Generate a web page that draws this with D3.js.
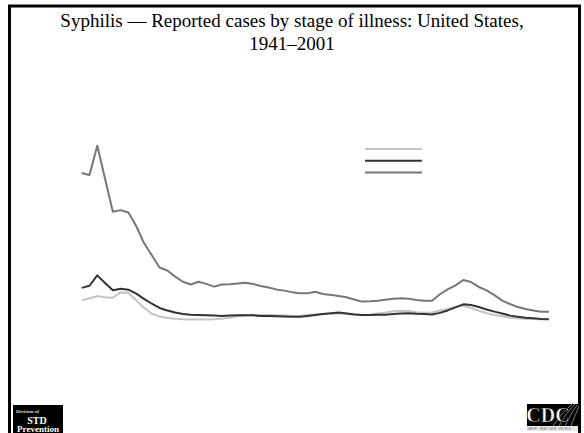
<!DOCTYPE html>
<html>
<head>
<meta charset="utf-8">
<script src="https://cdn.jsdelivr.net/npm/d3@7"></script>
<style>
  html, body { margin: 0; padding: 0; background: #fff; }
  svg { display: block; }
</style>
</head>
<body>
<div id="chart"></div>
<script>
// Reported syphilis cases (thousands) by stage of illness, 1941–2001
const years = [1941,1942,1943,1944,1945,1946,1947,1948,1949,1950,
               1951,1952,1953,1954,1955,1956,1957,1958,1959,1960,
               1961,1962,1963,1964,1965,1966,1967,1968,1969,1970,
               1971,1972,1973,1974,1975,1976,1977,1978,1979,1980,
               1981,1982,1983,1984,1985,1986,1987,1988,1989,1990,
               1991,1992,1993,1994,1995,1996,1997,1998,1999,2000,2001];

const primarySecondary = [68,75,82,78,77,94,93,68,44,24,
                          15,10,8,6,5,5,5,6,8,11,
                          16,18,19,20,20,19,19,17,17,20,
                          22,23,24,25,25,23,20,21,25,28,
                          32,34,33,29,27,28,35,40,46,51,
                          43,34,26,20,16,11,9,7,7,6,6];

const earlyLatent = [109,116,150,125,101,106,103,90,73,57,
                     43,35,28,23,21,20,19,18,17,18,
                     19,19,19,17,17,16,15,14,14,17,
                     20,23,26,28,25,22,20,20,21,21,
                     23,25,26,24,23,22,27,35,45,55,
                     53,46,38,31,25,18,14,11,9,7,6];

const allStages = [486,479,575,467,359,364,356,312,256,216,
                   176,166,146,129,120,129,122,113,120,121,
                   123,126,122,115,110,104,100,95,91,91,
                   96,89,86,82,78,71,64,65,67,70,
                   73,75,73,69,67,67,88,104,117,135,
                   128,112,101,85,67,56,46,40,35,31,31];

const seriesNames = ["Primary & secondary", "Early latent", "All stages"];
const seriesColors = ["#c4c4c4", "#333333", "#777777"];
const seriesValues = [primarySecondary, earlyLatent, allStages];

const W = 584, H = 433;
const svg = d3.select("#chart").append("svg")
  .attr("width", W).attr("height", H);

// slide frame
svg.append("rect")
  .attr("x", 9.5).attr("y", 6).attr("width", 570).attr("height", 450)
  .attr("fill", "#fff").attr("stroke", "#000").attr("stroke-width", 3);

// title
const title = svg.append("text")
  .attr("text-anchor", "middle")
  .attr("font-family", "'Liberation Serif', 'Times New Roman', serif")
  .attr("font-size", 19).attr("fill", "#000");
title.append("tspan").attr("x", 292).attr("y", 27)
  .text("Syphilis \u2014 Reported cases by stage of illness: United States,");
title.append("tspan").attr("x", 292).attr("y", 50).text("1941\u20132001");

// scales
const x = d3.scaleLinear().domain([1941, 2001]).range([81.7, 548.9]);
const y = d3.scaleLinear().domain([0, 600]).range([321.1, 138.2]);

const line = d3.line()
  .x(d => x(d.year))
  .y(d => y(d.value));

// draw lines: light first, then totals, then dark on top
const order = [0, 2, 1];
order.forEach(i => {
  const pts = years.map((yr, k) => ({ year: yr, value: seriesValues[i][k] }));
  svg.append("path")
    .datum(pts)
    .attr("d", line)
    .attr("fill", "none")
    .attr("stroke", seriesColors[i])
    .attr("stroke-width", 2)
    .attr("stroke-linejoin", "round");
});

// legend samples
const legend = svg.append("g").attr("transform", "translate(365,149)");
seriesNames.forEach((name, i) => {
  legend.append("line")
    .attr("x1", 0).attr("x2", 57)
    .attr("y1", i * 11.8).attr("y2", i * 11.8)
    .attr("stroke", seriesColors[i])
    .attr("stroke-width", 2);
});

// Division of STD Prevention logo
const dsp = svg.append("g").attr("transform", "translate(13,405)");
dsp.append("rect").attr("width", 50).attr("height", 30).attr("fill", "#000");
dsp.append("text").attr("x", 3).attr("y", 8)
  .attr("font-family", "'Liberation Serif', serif").attr("font-weight", "bold")
  .attr("font-size", 5).attr("fill", "#ddd").text("Division of");
dsp.append("text").attr("x", 24).attr("y", 18.5).attr("text-anchor", "middle")
  .attr("font-family", "'Liberation Serif', serif").attr("font-weight", "bold")
  .attr("font-size", 10).attr("fill", "#fff").text("STD");
dsp.append("text").attr("x", 25).attr("y", 27).attr("text-anchor", "middle")
  .attr("font-family", "'Liberation Serif', serif").attr("font-weight", "bold")
  .attr("font-size", 9).attr("fill", "#fff").text("Prevention");

// CDC logo
const cdc = svg.append("g").attr("transform", "translate(527,404)");
cdc.append("rect").attr("width", 51).attr("height", 22).attr("fill", "#000");
[0, 1, 2, 3].forEach(k => {
  cdc.append("path")
    .attr("d", `M${26 + k * 6},22 Q${34 + k * 5},9 ${46 + k * 2},${-1 + k}`)
    .attr("fill", "none").attr("stroke", "#777").attr("stroke-width", 1);
});
cdc.append("text").attr("x", 21).attr("y", 18).attr("text-anchor", "middle")
  .attr("font-family", "'Liberation Serif', serif").attr("font-weight", "bold")
  .attr("font-size", 20).attr("fill", "#fff")
  .attr("stroke", "#000").attr("stroke-width", 0.6).text("CDC");
cdc.append("rect").attr("y", 22).attr("width", 51).attr("height", 5).attr("fill", "#e8e8e8");
cdc.append("text").attr("x", 22).attr("y", 26).attr("text-anchor", "middle")
  .attr("font-family", "'Liberation Sans', sans-serif")
  .attr("font-size", 3).attr("fill", "#777")
  .text("SAFER \u00b7 HEALTHIER \u00b7 PEOPLE");
</script>
</body>
</html>
